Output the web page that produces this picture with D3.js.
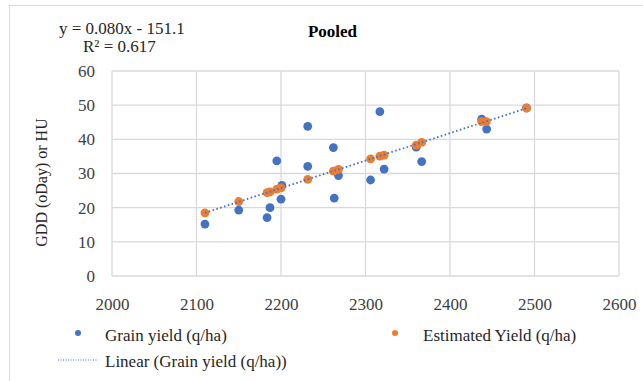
<!DOCTYPE html>
<html><head><meta charset="utf-8">
<script src="https://cdn.jsdelivr.net/npm/d3@7"></script>
<style>
html,body{margin:0;padding:0;background:#fff;}
svg{display:block;font-family:"Liberation Serif","Times New Roman",serif;}
svg text{font-family:"Liberation Serif","Times New Roman",serif !important;}
</style></head>
<body><svg id="c" width="643" height="381"></svg>
<script>
// Data
const grainX = [2110, 2150, 2183.5, 2187, 2195, 2200, 2201, 2231.6, 2231.6, 2262, 2263, 2268, 2306, 2317, 2322, 2360, 2366.5, 2437.5, 2443.4, 2490.6];
const grainY = [15.2, 19.3, 17.1, 20.0, 33.7, 22.5, 26.5, 43.8, 32.1, 37.6, 22.8, 29.4, 28.1, 48.1, 31.3, 37.7, 33.5, 45.9, 43.0, 49.2];
const estX = [2110, 2150, 2183.5, 2187, 2195, 2200, 2231.6, 2262, 2268, 2306, 2317, 2322, 2360, 2366.5, 2437.5, 2443, 2490.6];
const estY = [18.5, 21.8, 24.4, 24.6, 25.4, 25.8, 28.3, 30.7, 31.2, 34.3, 35.1, 35.4, 38.3, 39.1, 45.2, 45.2, 49.1];
const trendX = [2110, 2490.6];
const trendY = [18.5, 49.1];
const xTicks = [2000, 2100, 2200, 2300, 2400, 2500, 2600];
const yTicks = [0, 10, 20, 30, 40, 50, 60];
const title = "Pooled";
const eqLines = ["y = 0.080x - 151.1", "R\u00B2 = 0.617"];
const yLabel = "GDD (oDay) or HU";
const legendNames = ["Grain yield (q/ha)", "Estimated Yield (q/ha)", "Linear (Grain yield (q/ha))"];

const BLUE = "#4472C4", ORANGE = "#ED7D31", GRID = "#d9d9d9";
const SERIF = "'Liberation Serif','Times New Roman',serif";
const svg = d3.select("#c");

// outer chart border
svg.append("rect").attr("x", 9.5).attr("y", 5.5).attr("width", 660).attr("height", 400)
  .attr("fill", "none").attr("stroke", GRID).attr("stroke-width", 1);

const L = 112, R = 619, T = 71, B = 276;
const x = d3.scaleLinear().domain([2000, 2600]).range([L, R]);
const y = d3.scaleLinear().domain([0, 60]).range([B, T]);

// gridlines
const g = svg.append("g");
g.selectAll("line.v").data(xTicks).join("line").attr("class", "v")
  .attr("x1", d => x(d)).attr("x2", d => x(d)).attr("y1", T).attr("y2", B)
  .attr("stroke", GRID).attr("stroke-width", 1.3);
g.selectAll("line.h").data(yTicks).join("line").attr("class", "h")
  .attr("y1", d => y(d)).attr("y2", d => y(d)).attr("x1", L).attr("x2", R)
  .attr("stroke", GRID).attr("stroke-width", 1.3);

// axes labels via d3 axes
const xAxis = svg.append("g").attr("transform", `translate(0,${B})`)
  .call(d3.axisBottom(x).tickValues(xTicks).tickSize(0).tickPadding(22).tickFormat(d3.format("d")));
const yAxis = svg.append("g").attr("transform", `translate(${L},0)`)
  .call(d3.axisLeft(y).tickValues(yTicks).tickSize(0).tickPadding(17).tickFormat(d3.format("d")));
[xAxis, yAxis].forEach(a => {
  a.attr("font-family", SERIF).attr("font-size", 17);
  a.select(".domain").remove();
  a.selectAll("text").style("font-family", SERIF).style("font-size", "17px").attr("fill", "#404040");
});

// scatter
svg.append("g").selectAll("circle").data(grainX.map((d, i) => [d, grainY[i]])).join("circle")
  .attr("cx", d => x(d[0])).attr("cy", d => y(d[1])).attr("r", 4.4).attr("fill", BLUE);
svg.append("g").selectAll("circle").data(estX.map((d, i) => [d, estY[i]])).join("circle")
  .attr("cx", d => x(d[0])).attr("cy", d => y(d[1])).attr("r", 4.4).attr("fill", ORANGE);

// trendline
svg.append("path").datum(trendX.map((d, i) => [d, trendY[i]]))
  .attr("d", d3.line().x(d => x(d[0])).y(d => y(d[1])))
  .attr("fill", "none").attr("stroke", BLUE).attr("stroke-width", 1.8).attr("stroke-dasharray", "1.6,2.4");

// title & equation
svg.append("text").attr("x", 332.5).attr("y", 37).attr("text-anchor", "middle")
  .attr("font-size", 17).attr("font-weight", "bold").attr("fill", "#000").text(title);
svg.append("text").attr("x", 59).attr("y", 34).attr("font-size", 17).attr("fill", "#262626").text(eqLines[0]);
svg.append("text").attr("x", 83).attr("y", 52).attr("font-size", 17).attr("fill", "#262626").text(eqLines[1]);

// y label
svg.append("text").attr("transform", "translate(47,182.5) rotate(-90)").attr("text-anchor", "middle")
  .attr("font-size", 16).attr("fill", "#262626").text(yLabel);

// legend
const lg = svg.append("g");
lg.append("circle").attr("cx", 78).attr("cy", 333).attr("r", 3).attr("fill", BLUE);
lg.append("text").attr("x", 105).attr("y", 341).attr("font-size", 17).attr("fill", "#262626").text(legendNames[0]);
lg.append("circle").attr("cx", 395).attr("cy", 333).attr("r", 3).attr("fill", ORANGE);
lg.append("text").attr("x", 423).attr("y", 341).attr("font-size", 17).attr("fill", "#262626").text(legendNames[1]);
lg.append("line").attr("x1", 58).attr("x2", 98).attr("y1", 360).attr("y2", 360)
  .attr("stroke", BLUE).attr("stroke-width", 1).attr("stroke-dasharray", "1,1.5");
lg.append("text").attr("x", 105).attr("y", 367).attr("font-size", 17).attr("fill", "#262626").text(legendNames[2]);
</script></body></html>
